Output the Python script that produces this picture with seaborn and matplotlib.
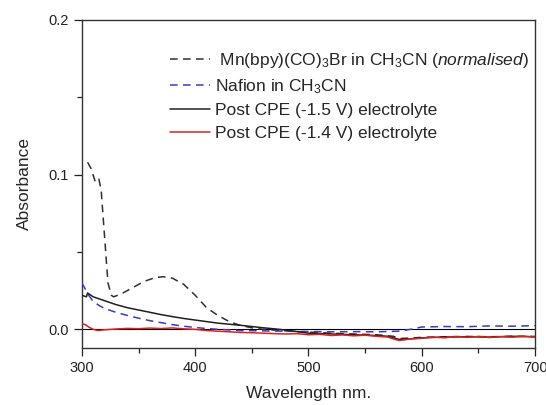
import matplotlib
matplotlib.use("Agg")
import matplotlib.pyplot as plt
import seaborn as sns
import pandas as pd

# ---- data ----
wl_mn = [305, 308, 312, 315, 317, 320, 323, 326, 328, 335, 345, 355, 365, 372, 380,
         390, 400, 410, 420, 430, 440, 450, 460, 470, 480, 500, 520, 540, 560, 575,
         580, 600, 620, 640, 660, 680, 700]
abs_mn = [0.108, 0.104, 0.095, 0.097, 0.090, 0.060, 0.030, 0.022, 0.021, 0.023, 0.027,
          0.031, 0.0335, 0.034, 0.033, 0.029, 0.022, 0.014, 0.009, 0.005, 0.0025, 0.001,
          0.0, -0.0005, -0.001, -0.0018, -0.0025, -0.003, -0.0035, -0.0045, -0.006,
          -0.0052, -0.0048, -0.0046, -0.0048, -0.0045, -0.0046]

wl_naf = [300, 303, 306, 310, 315, 320, 330, 340, 350, 360, 370, 380, 390, 400, 410,
          420, 440, 460, 480, 500, 520, 540, 560, 580, 590, 600, 620, 640, 660, 680, 700]
abs_naf = [0.030, 0.026, 0.022, 0.018, 0.0155, 0.0135, 0.011, 0.009, 0.0072, 0.0056,
           0.0043, 0.003, 0.002, 0.0012, 0.0005, 0.0, -0.0008, -0.001, -0.0012, -0.0014,
           -0.0016, -0.0015, -0.0016, -0.0012, 0.0, 0.0015, 0.0018, 0.0017, 0.0022,
           0.002, 0.0024]

wl_15 = [300, 304, 305, 310, 320, 330, 340, 350, 360, 370, 380, 390, 400, 410, 420,
         430, 440, 450, 460, 470, 480, 490, 500, 520, 540, 560, 570, 580, 590, 600,
         620, 640, 660, 680, 700]
abs_15 = [0.022, 0.021, 0.0235, 0.021, 0.0185, 0.016, 0.014, 0.0125, 0.011, 0.0095,
          0.0082, 0.007, 0.006, 0.005, 0.004, 0.0033, 0.0026, 0.0018, 0.001, 0.0003,
          -0.0005, -0.0015, -0.0025, -0.003, -0.0035, -0.004, -0.0045, -0.0065,
          -0.0062, -0.0055, -0.005, -0.0048, -0.005, -0.0045, -0.0048]

wl_14 = [300, 303, 306, 310, 314, 320, 330, 340, 350, 360, 370, 380, 390, 400, 410,
         420, 430, 440, 450, 460, 470, 480, 490, 500, 510, 520, 530, 540, 550, 560,
         570, 575, 580, 585, 590, 600, 610, 620, 630, 640, 650, 660, 670, 680, 690, 700]
abs_14 = [0.0037, 0.003, 0.0015, 0.0, -0.0008, -0.0003, 0.0002, 0.0006, 0.0004, 0.0008,
          0.0005, 0.0009, 0.0003, 0.0, -0.0008, -0.0012, -0.0016, -0.002, -0.0022,
          -0.0025, -0.0028, -0.003, -0.0028, -0.0035, -0.0032, -0.004, -0.0036, -0.0042,
          -0.0038, -0.0045, -0.005, -0.0062, -0.0072, -0.0068, -0.0062, -0.0058, -0.0050,
          -0.0055, -0.0047, -0.0052, -0.0046, -0.0053, -0.0047, -0.0051, -0.0045, -0.005]

labels = [r" Mn(bpy)(CO)$_3$Br in CH$_3$CN $\mathit{(normalised)}$",
          r"Nafion in CH$_3$CN",
          "Post CPE (-1.5 V) electrolyte",
          "Post CPE (-1.4 V) electrolyte"]

xticks = [300, 400, 500, 600, 700]
yticks = [0.0, 0.1, 0.2]

# ---- style ----
sns.set_style("ticks")
plt.rcParams['font.family'] = ['Liberation Sans', 'DejaVu Sans']
plt.rcParams['mathtext.fontset'] = 'custom'
plt.rcParams['mathtext.rm'] = 'Liberation Sans'
plt.rcParams['mathtext.it'] = 'Liberation Sans:italic'

fig = plt.figure(figsize=(5.46, 4.05), dpi=100)
ax = fig.add_axes([0.150, 0.141, 0.830, 0.810])

series = [(wl_mn, abs_mn, labels[0], "#303030", (0, (5, 3.5))),
          (wl_naf, abs_naf, labels[1], "#3a3ac8", (0, (5, 3.5))),
          (wl_15, abs_15, labels[2], "#202020", "-"),
          (wl_14, abs_14, labels[3], "#e02020", "-")]

ax.axhline(0, color="black", lw=0.8, zorder=1)
for x, y, lab, col, ls in series:
    df = pd.DataFrame({"wl": x, "a": y})
    sns.lineplot(data=df, x="wl", y="a", ax=ax, color=col, lw=1.1,
                 linestyle=ls, label=lab, zorder=3)

ax.set_xlim(300, 700)
ax.set_ylim(-0.012, 0.2)
ax.set_xticks(xticks)
ax.set_xticklabels([str(t) for t in xticks])
ax.set_yticks(yticks)
ax.set_yticklabels(["0.0", "0.1", "0.2"])
ax.set_xticks([350, 450, 550, 650], minor=True)
ax.set_yticks([0.05, 0.15], minor=True)
ax.tick_params(which="both", direction="out", length=6, width=0.9, colors="#222222",
               labelsize=10.5, top=False, right=False)
ax.tick_params(which="minor", length=3.5)
for s in ax.spines.values():
    s.set_linewidth(1.0)
    s.set_color("#333333")

ax.set_xlabel("Wavelength nm.", fontsize=12.5, labelpad=8)
ax.set_ylabel("Absorbance", fontsize=12.5, labelpad=12)

handles, labs = ax.get_legend_handles_labels()
ax.get_legend().remove()
fig.legend(handles=handles, labels=labs,
           loc="upper left", bbox_to_anchor=(170 / 546, 1 - 51 / 405),
           frameon=False, fontsize=12.5, handlelength=2.3, handletextpad=0.3,
           labelspacing=0.42, borderpad=0, borderaxespad=0)

fig.savefig("out.png", dpi=100)
